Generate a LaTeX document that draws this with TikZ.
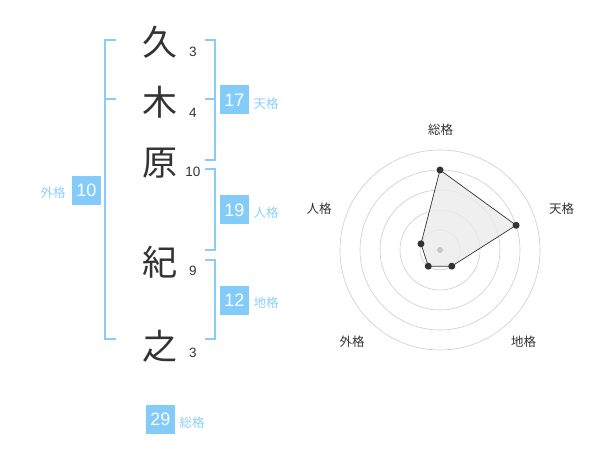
\documentclass[tikz,border=0pt]{standalone}
\usepackage{fontspec}
\setmainfont{Liberation Sans}
\newfontfamily\cjk{Noto Sans CJK JP}
\definecolor{boxblue}{HTML}{83CBF9}
\definecolor{lineblue}{HTML}{88CCF7}
\definecolor{lblblue}{HTML}{8ECFF7}
\definecolor{ink}{HTML}{333333}
\definecolor{ring}{HTML}{CCCCCC}
\begin{document}
\begin{tikzpicture}[x=1pt,y=-1pt,
  kanji/.style={font=\cjk\fontsize{35}{35}\selectfont, text=ink, inner sep=0pt},
  strokes/.style={font=\fontsize{13.5}{13.5}\selectfont, text=ink, inner sep=0pt},
  valbox/.style={fill=boxblue, text=white, minimum width=29pt, minimum height=29pt, inner sep=0pt, font=\fontsize{18}{18}\selectfont},
  kaku/.style={font=\cjk\fontsize{12.5}{12.5}\selectfont, text=lblblue, inner sep=0pt},
  radlbl/.style={font=\cjk\fontsize{12.5}{12.5}\selectfont, text=ink, inner sep=0pt},
  bracket/.style={draw=lineblue, line width=2pt},
  ringline/.style={draw=ring, line width=0.6pt},
  dot/.style={circle, fill=ink, inner sep=0pt, minimum size=7pt}]
\useasboundingbox (0,0) rectangle (600,470);
% kanji
\node[kanji] (k1) at (160,42) {久};
\node[kanji] (k2) at (160,102) {木};
\node[kanji] (k3) at (160,163) {原};
\node[kanji] (k4) at (160,262) {紀};
\node[kanji] (k5) at (160,346) {之};
% stroke counts
\node[strokes] (s1) at (193,52) {3};
\node[strokes] (s2) at (193,113) {4};
\node[strokes] (s3) at (193,172) {10};
\node[strokes] (s4) at (193,271) {9};
\node[strokes] (s5) at (193,353) {3};
% left bracket (gaikaku)
\coordinate (lt) at (116,40);
\coordinate (lm) at (116,99);
\coordinate (lb) at (116,339);
\draw[bracket] (lt) -- (105,40) -- (105,339) -- (lb);
\draw[bracket] (105,99) -- (lm);
\node[valbox] (gai) at (86.5,190.5) {10};
\node[kaku] (gail) at (53,193) {外格};
% right brackets
\draw[bracket] (205,40) -- (214.5,40) -- (214.5,160) -- (205,160);
\draw[bracket] (205,99) -- (214.5,99);
\draw[bracket] (205,169.5) -- (214.5,169.5) -- (214.5,250) -- (205,250);
\draw[bracket] (205,260) -- (214.5,260) -- (214.5,339) -- (205,339);
\node[valbox] (ten) at (234.5,100) {17};
\node[kaku] (tenl) at (266,104) {天格};
\node[valbox] (jin) at (234.5,210) {19};
\node[kaku] (jinl) at (266,213) {人格};
\node[valbox] (chi) at (234.5,300.5) {12};
\node[kaku] (chil) at (266,303) {地格};
\node[valbox] (sou) at (160.5,419.5) {29};
\node[kaku] (soul) at (192,423) {総格};
% radar chart
\coordinate (c) at (440,250);
\foreach \r in {20,40,60,80,100} \draw[ringline] (c) circle[radius=\r];
\path (c) ++(-90:80) coordinate (p1);
\path (c) ++(-18:80) coordinate (p2);
\path (c) ++(54:20) coordinate (p3);
\path (c) ++(126:20) coordinate (p4);
\path (c) ++(198:20) coordinate (p5);
\path[fill=black!8, fill opacity=0.8, draw=ink, line width=0.7pt] (p1) -- (p2) -- (p3) -- (p4) -- (p5) -- cycle;
\node[circle, fill=black!22, inner sep=0pt, minimum size=6pt] (cd) at (c) {};
\node[dot] (d1) at (p1) {};
\node[dot] (d2) at (p2) {};
\node[dot] (d3) at (p3) {};
\node[dot] (d4) at (p4) {};
\node[dot] (d5) at (p5) {};
\node[radlbl] (r1) at (440.5,130) {総格};
\node[radlbl] (r2) at (561.5,209) {天格};
\node[radlbl] (r3) at (523.5,342) {地格};
\node[radlbl] (r4) at (352,342) {外格};
\node[radlbl] (r5) at (319,209) {人格};
\end{tikzpicture}
\end{document}
